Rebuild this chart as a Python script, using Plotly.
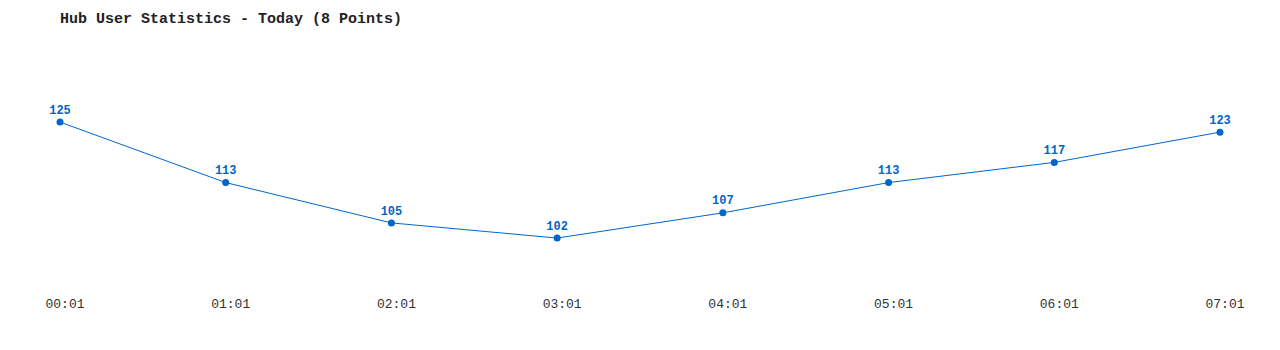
import plotly.graph_objects as go

times = ["00:01", "01:01", "02:01", "03:01", "04:01", "05:01", "06:01", "07:01"]
users = [125, 113, 105, 102, 107, 113, 117, 123]
title_text = "Hub User Statistics - Today (8 Points)"

color = "#0066cc"
xs = list(range(len(times)))

fig = go.Figure()
fig.add_trace(go.Scatter(
    x=xs, y=users, mode="lines+markers+text",
    text=[str(v) for v in users], textposition="top center",
    textfont=dict(family="Liberation Mono", size=12, color=color, weight="bold"),
    line=dict(color=color, width=1),
    marker=dict(color=color, size=7),
    cliponaxis=False, hoverinfo="skip",
))

fig.update_layout(
    width=1280, height=350,
    margin=dict(l=60, r=60, t=60, b=60),
    paper_bgcolor="white", plot_bgcolor="white",
    showlegend=False,
    title=dict(text=title_text, x=60/1280, xanchor="left", y=1-18/350, yanchor="middle",
               font=dict(family="Liberation Mono", size=15, color="#222", weight="bold")),
    xaxis=dict(range=[0, 7], tickvals=xs, ticktext=times, showgrid=False, zeroline=False,
               showline=False, ticks="", ticklabelshift=5, ticklabelstandoff=4,
               tickfont=dict(family="Liberation Mono", size=13, color="#333")),
    yaxis=dict(range=[91.7, 137.3], showgrid=False, zeroline=False, showline=False,
               showticklabels=False, ticks=""),
)

fig.write_html("out.html")
